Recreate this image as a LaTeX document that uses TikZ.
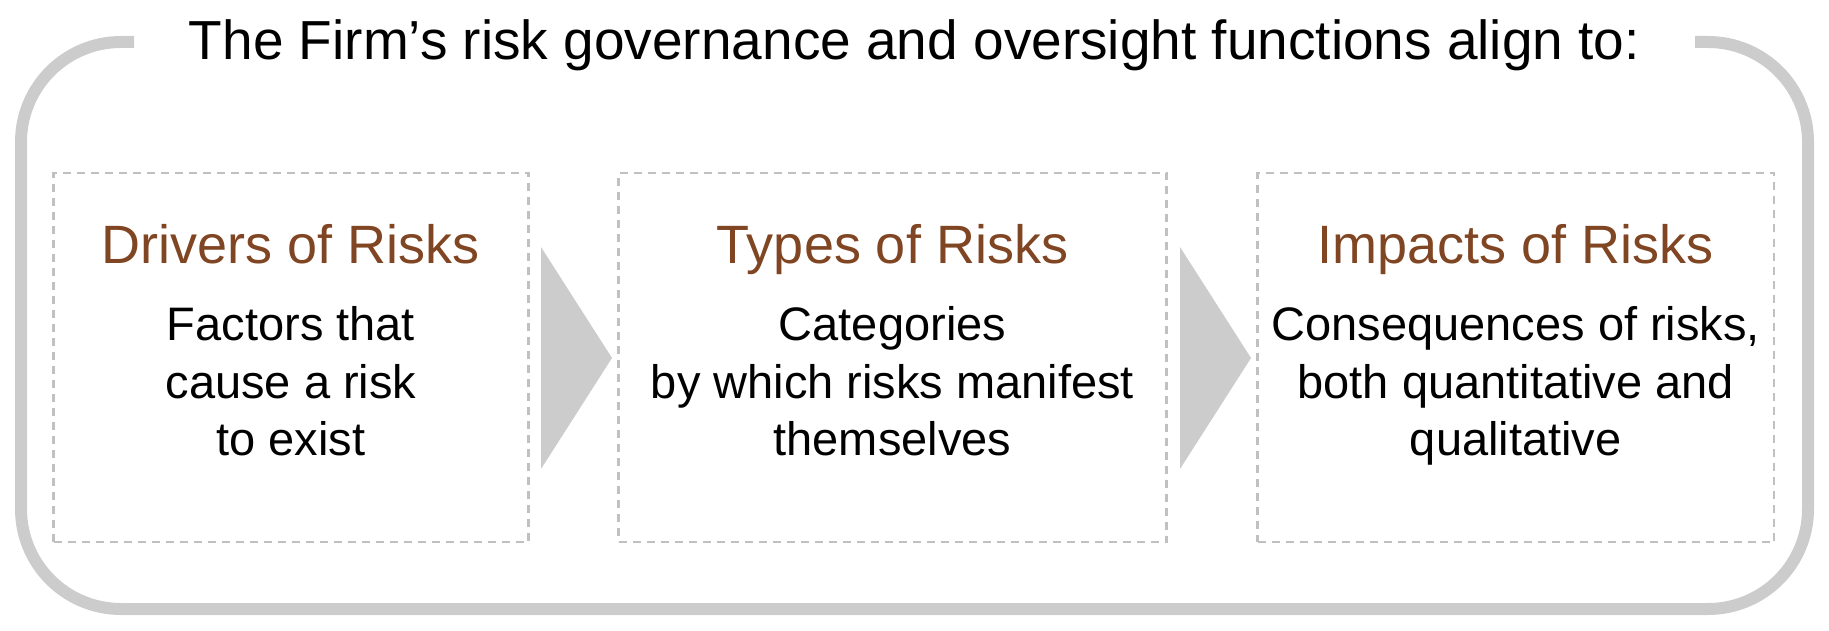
\documentclass[tikz,border=0pt]{standalone}
\usepackage{fontspec}
\setmainfont{Liberation Sans}
\usetikzlibrary{positioning}
\definecolor{riskbrown}{RGB}{128,69,34}
\definecolor{framegray}{RGB}{204,204,204}
\definecolor{dashgray}{RGB}{192,192,192}
\tikzset{
  riskbox/.style={draw=dashgray, line width=2.7pt, dash pattern=on 8pt off 6pt,
    minimum height=369pt, inner sep=0pt},
  head/.style={text=riskbrown, font=\fontsize{54}{60}\selectfont, anchor=base},
  body/.style={font=\fontsize{47}{57.5}\selectfont, align=center, anchor=base},
  chevron/.style={fill=framegray}
}

\begin{document}
\begin{tikzpicture}[x=1pt,y=-1pt]  % ------ risk governance : drivers, types, impacts --------
    \useasboundingbox (0,0) rectangle (1829,631);

    \coordinate (G1) at (134,42);   % frame is open under the title
    \coordinate (G2) at (1695,42);

    \draw[framegray, line width=12pt, rounded corners=100pt]
      (G1) -- (21,42) -- (21,609) -- (1808,609) -- (1808,42) -- (G2);
    \node[anchor=base, font=\fontsize{55}{60}\selectfont] (T) at (914.5,60)
      {The Firm’s risk governance and oversight functions align to:};

    \node[riskbox, minimum width=475pt] (D) at (291,357.5) {};
    \node[riskbox, minimum width=548pt] (Ty) at (892.5,357.5) {};
    \node[riskbox, minimum width=516.5pt] (I) at (1515.75,357.5) {};

    \fill[chevron] (541,247) -- (612,358) -- (541,469) -- cycle;    % D -> Ty
    \fill[chevron] (1180,247) -- (1251,358) -- (1180,469) -- cycle; % Ty -> I

    \node[head] (Dh) at (291,263) {Drivers of Risks};
    \node[head] (Tyh) at (892.5,263) {Types of Risks};
    \node[head] (Ih) at (1515.75,263) {Impacts of Risks};

    % base of a three line node is the last line
    \node[body] (Db) at (291,455.7) {Factors that\\cause a risk\\to exist};
    \node[body] (Tyb) at (892.5,455.7) {Categories\\by which risks manifest\\themselves};
    \node[body] (Ib) at (1515.75,455.7) {Consequences of risks,\\both quantitative and\\qualitative};
\end{tikzpicture}
\end{document}
